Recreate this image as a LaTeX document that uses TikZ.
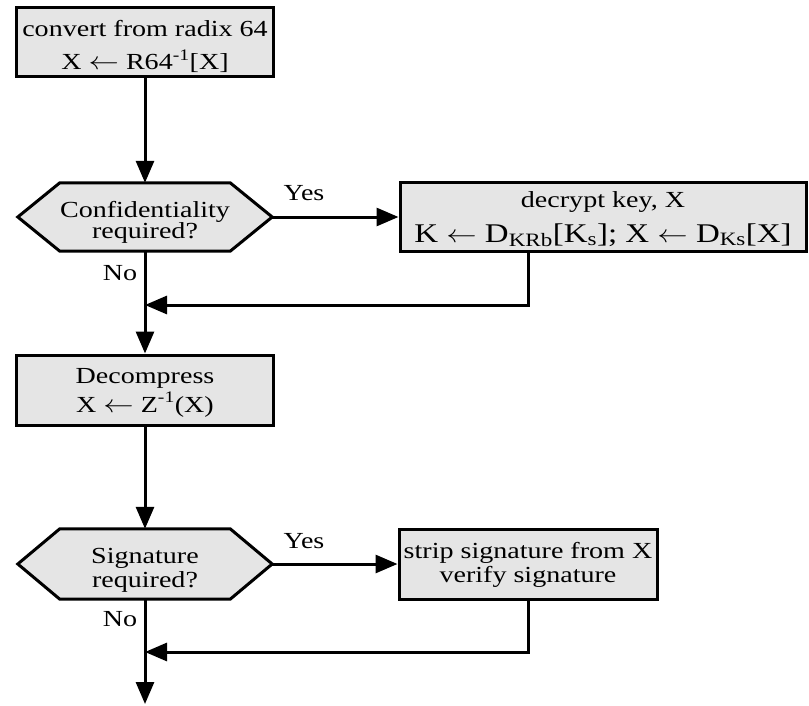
\documentclass[tikz,border=0pt]{standalone}
\usepackage{fontspec}
\usepackage{graphicx}
\setmainfont{Liberation Serif}[FakeStretch=1.22]
\usetikzlibrary{arrows.meta,backgrounds}
\newcommand\myarrow{\scalebox{1.22}[1]{$\leftarrow$}}
\newcommand\topstrut[1]{\rule{0pt}{#1}}
\newcommand\botstrut[1]{\rule[-#1]{0pt}{#1}}
\begin{document}
\lineskiplimit=-50pt
\begin{tikzpicture}[x=1pt,y=-1pt,
  box/.style={draw,line width=3pt,fill=gray!20,inner sep=0pt,align=center},
  hexnode/.style={inner sep=0pt,align=center,minimum width=254pt},
  hexbox/.style={draw,line width=3pt,fill=gray!20,line join=miter},
  arr/.style={line width=3pt,-{Triangle[length=22pt,width=18pt]}},
  lbl/.style={inner sep=0pt,font=\fontsize{23}{23}\selectfont}]
\useasboundingbox (0,0) rectangle (809,706);

% nodes
\node[box,minimum width=257pt,minimum height=69pt,
  font=\fontsize{23}{33}\selectfont] (r64) at (145,42.5)
  {\topstrut{27pt}convert from radix 64\\X \myarrow\ R64\textsuperscript{-1}[X]\botstrut{5pt}};
\node[hexnode,minimum height=68pt,
  font=\fontsize{23}{21}\selectfont] (conf) at (145,217)
  {\topstrut{27pt}Confidentiality\\required?\botstrut{6pt}};
\node[box,minimum width=406pt,minimum height=68pt,
  font=\fontsize{23}{35}\selectfont] (dec) at (603,217)
  {\topstrut{23pt}decrypt key, X\\{\fontsize{27}{35}\selectfont K \myarrow\ D\textsubscript{KRb}[K\textsubscript{s}]; X \myarrow\ D\textsubscript{Ks}[X]\botstrut{8pt}}};
\node[box,minimum width=257pt,minimum height=70pt,
  font=\fontsize{23}{29}\selectfont] (decomp) at (145,390)
  {\topstrut{22pt}Decompress\\X \myarrow\ Z\textsuperscript{-1}(X)\botstrut{7pt}};
\node[hexnode,minimum height=70pt,
  font=\fontsize{23}{24}\selectfont] (sig) at (145,564)
  {\topstrut{28pt}Signature\\required?\botstrut{6pt}};
\node[box,minimum width=258pt,minimum height=70pt,
  font=\fontsize{23}{24}\selectfont] (strip) at (528,564)
  {\topstrut{22pt}strip signature from X\\verify signature\botstrut{10pt}};

\begin{scope}[on background layer]
\draw[hexbox] (conf.west) -- ([xshift=42pt]conf.north west) -- ([xshift=-42pt]conf.north east)
  -- (conf.east) -- ([xshift=-42pt]conf.south east) -- ([xshift=42pt]conf.south west) -- cycle;
\draw[hexbox] (sig.west) -- ([xshift=42pt]sig.north west) -- ([xshift=-42pt]sig.north east)
  -- (sig.east) -- ([xshift=-42pt]sig.south east) -- ([xshift=42pt]sig.south west) -- cycle;
\end{scope}

% labels
\node[lbl] (yes1) at (304,193) {Yes};
\node[lbl] (no1) at (120,273) {No};
\node[lbl] (yes2) at (304,541) {Yes};
\node[lbl] (no2) at (120,619) {No};

% junctions
\coordinate (j1) at (145,305);
\coordinate (j2) at (145,652);
\coordinate (fin) at (145,704);

% connectors
\draw[arr] (r64.south) -- (conf.north);
\draw[arr] (conf.east) -- (dec.west);
\draw[arr] ([xshift=-75pt]dec.south) |- (j1);
\draw[arr] (conf.south) -- (decomp.north);
\draw[arr] (decomp.south) -- (sig.north);
\draw[arr] (sig.east) -- (strip.west);
\draw[arr] (strip.south) |- (j2);
\draw[arr] (sig.south) -- (fin);
\end{tikzpicture}
\end{document}
